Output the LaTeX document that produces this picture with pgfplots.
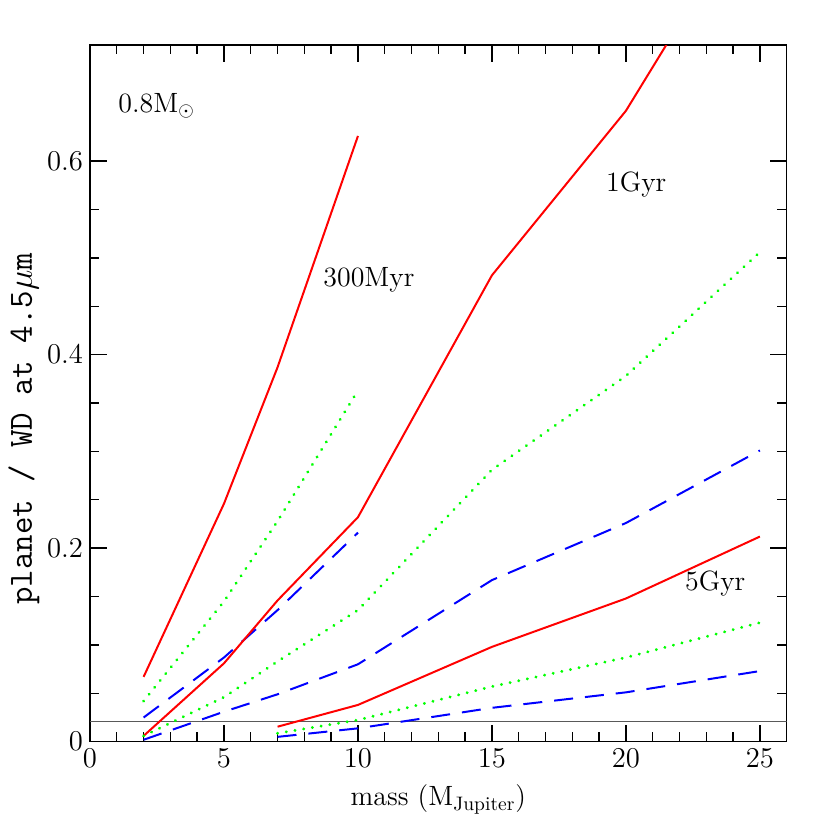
\documentclass[border=0pt]{standalone}
\usepackage{fontspec}
\usepackage{pgfplots}
\pgfplotsset{compat=1.18}
\begin{document}
\begin{tikzpicture}
\useasboundingbox (-45bp,-44.15bp) rectangle (370bp,370.85bp);
\begin{axis}[
    at={(0,0)}, anchor=south west,
    scale only axis,
    width=348.35bp, height=348.35bp,
    xmin=0, xmax=26, ymin=0, ymax=0.72,
    xtick={0,5,10,15,20,25},
    ytick={0,0.2,0.4,0.6},
    minor x tick num=4,
    minor y tick num=3,
    tick align=inside,
    major tick length=8.3bp,
    minor tick length=4.7bp,
    every tick/.style={black, line width=0.7pt},
    axis line style={line width=0.8pt},
    yticklabel style={/pgf/number format/fixed},
    tick label style={font=\fontsize{14}{16}\selectfont},
    label style={font=\fontsize{14}{16}\selectfont},
    xlabel={mass (M$_{\mathrm{Jupiter}}$)},
    ylabel={{\ttfamily planet / WD at 4.5}$\mu${\ttfamily m}},
    xlabel style={yshift=-2bp},
    ylabel style={at={(ticklabel cs:0.449)}, yshift=-3bp, font=\fontsize{17}{19}\selectfont},
    clip=true,
]
% threshold line
\addplot[gray!70!black, line width=0.8pt] coordinates {(0,0.0207) (26,0.0207)};

% 300 Myr
\addplot[red, line width=1pt] coordinates {(2,0.067) (5,0.246) (7,0.387) (10,0.626)};
\addplot[green, line width=1.6pt, dash pattern=on 0.01pt off 4.4bp, line cap=round] coordinates {(2,0.042) (5,0.145) (7,0.228) (10,0.363)};
\addplot[blue, line width=1pt, dash pattern=on 9.5bp off 6bp] coordinates {(2,0.025) (5,0.087) (7,0.136) (10,0.216)};

% 1 Gyr
\addplot[red, line width=1pt] coordinates {(2,0.006) (5,0.081) (7,0.146) (10,0.232) (15,0.482) (20,0.652) (25,0.878)};
\addplot[green, line width=1.6pt, dash pattern=on 0.01pt off 4.4bp, line cap=round] coordinates {(2,0.006) (5,0.046) (7,0.083) (10,0.136) (15,0.281) (20,0.378) (25,0.506)};
\addplot[blue, line width=1pt, dash pattern=on 9.5bp off 6bp] coordinates {(2,0.002) (5,0.031) (7,0.049) (10,0.080) (15,0.167) (20,0.226) (25,0.301)};

% 5 Gyr
\addplot[red, line width=1pt] coordinates {(7,0.0155) (10,0.038) (15,0.098) (20,0.148) (25,0.212)};
\addplot[green, line width=1.6pt, dash pattern=on 0.01pt off 4.4bp, line cap=round] coordinates {(7,0.0087) (10,0.0224) (15,0.057) (20,0.087) (25,0.123)};
\addplot[blue, line width=1pt, dash pattern=on 9.5bp off 6bp] coordinates {(7,0.005) (10,0.0138) (15,0.035) (20,0.051) (25,0.073)};

\node[anchor=west, font=\fontsize{14}{16}\selectfont] at (axis cs:0.8,0.657) {0.8M$_\odot$};
\node[anchor=west, font=\fontsize{14}{16}\selectfont] at (axis cs:8.45,0.477) {300Myr};
\node[anchor=west, font=\fontsize{14}{16}\selectfont] at (axis cs:19.0,0.576) {1Gyr};
\node[anchor=west, font=\fontsize{14}{16}\selectfont] at (axis cs:21.95,0.163) {5Gyr};
\end{axis}
\end{tikzpicture}
\end{document}
